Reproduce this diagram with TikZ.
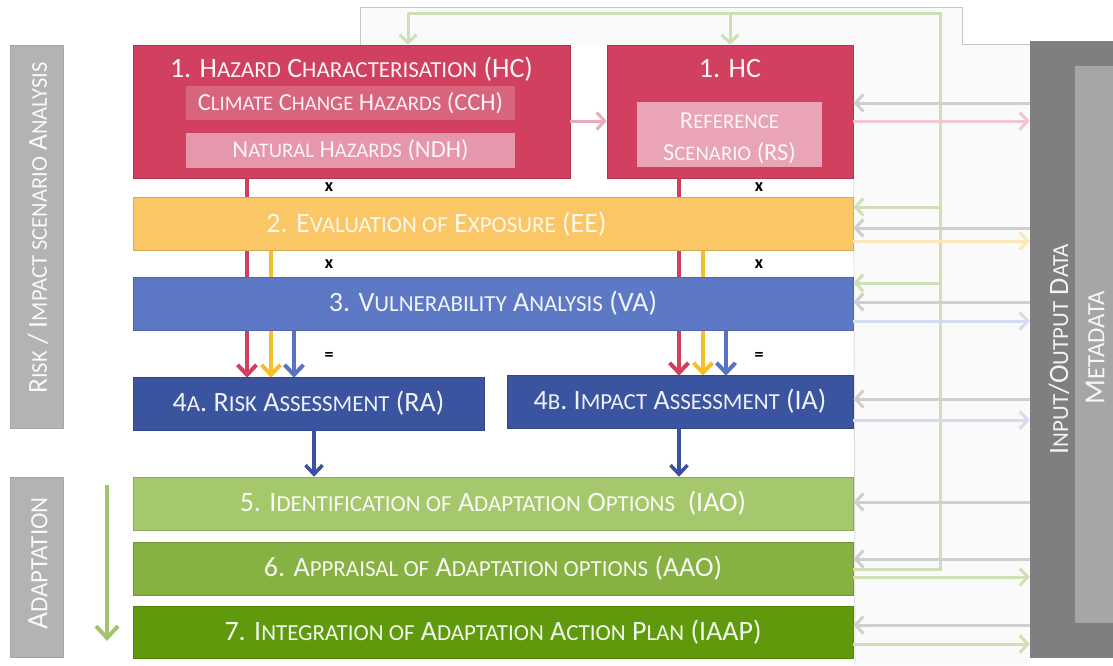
\documentclass[tikz,border=0pt]{standalone}
\usepackage{fontspec}
\setmainfont{Carlito}
\usepackage{relsize}
\usetikzlibrary{arrows.meta}

% small capitals built from scaled upper-case letters
\newcommand\sm[1]{\textscale{0.82}{\MakeUppercase{#1}}}

\definecolor{hcred}{HTML}{D1405E}
\definecolor{cchred}{HTML}{D9647E}
\definecolor{ndhpink}{HTML}{E697AB}
\definecolor{rspink}{HTML}{E9A4B7}
\definecolor{eeyel}{HTML}{FBC766}
\definecolor{vablue}{HTML}{5D79C6}
\definecolor{radark}{HTML}{3A54A0}
\definecolor{gone}{HTML}{A6C86C}
\definecolor{gtwo}{HTML}{87B142}
\definecolor{gthree}{HTML}{5F9A0C}
\definecolor{labgray}{HTML}{B3B3B3}
\definecolor{iogray}{HTML}{7F7F7F}
\definecolor{metagray}{HTML}{A6A6A6}
\definecolor{arrgray}{HTML}{CFCFCF}
\definecolor{arrpink}{HTML}{F2C6D2}
\definecolor{arryel}{HTML}{FDE6BC}
\definecolor{arrblue}{HTML}{D6DCF0}
\definecolor{arrgreen}{HTML}{CFE0B6}
\definecolor{lineyel}{HTML}{F7BE2C}
\definecolor{lineblue}{HTML}{5A72C4}
\definecolor{linedark}{HTML}{3A50A0}
\definecolor{downgreen}{HTML}{A2C46E}

\pgfdeclarelayer{bg}
\pgfsetlayers{bg,main}

\tikzset{
  box/.style={draw=#1!85!black, line width=0.6pt, fill=#1, inner sep=0pt,
              text=white!92!#1, font=\fontsize{28}{30}\selectfont},
  sidelabel/.style={draw=black!35, line width=0.8pt, fill=labgray, inner sep=0pt,
              minimum width=53pt},
  sidetext/.style={rotate=90, text=white!92!labgray},
  barbarrow/.style={-{Straight Barb[length=8pt,width=17pt]}, line width=3pt},
  flowarrow/.style={-{Straight Barb[length=10pt,width=19pt]}, line width=4pt},
  opmark/.style={font=\bfseries\fontsize{18}{19}\selectfont, text=black},
}

\begin{document}
\begin{tikzpicture}[x=1pt,y=-1pt]
\useasboundingbox (0,0) rectangle (1113,665);

% ---------------- boxes ----------------
\node[box=hcred, minimum width=437pt, minimum height=133pt] (hc) at (351.5,111.5) {};
\node[text=white!94!hcred, font=\fontsize{28}{30}\selectfont] (hctitle) at (351.5,69)
  {1. H\sm{azard} C\sm{haracterisation} (HC)};
\node[fill=cchred, inner sep=0pt, minimum width=329pt, minimum height=34pt,
      text=white!92!cchred, font=\fontsize{24.5}{26}\selectfont] (cch) at (350.5,103)
  {C\sm{limate} C\sm{hange} H\sm{azards} (CCH)};
\node[fill=ndhpink, inner sep=0pt, minimum width=329pt, minimum height=35pt,
      text=white!90!ndhpink, font=\fontsize{24.5}{26}\selectfont] (ndh) at (350.5,150.5)
  {N\sm{atural} H\sm{azards} (NDH)};

\node[box=hcred, minimum width=246pt, minimum height=133pt] (hcr) at (730,111.5) {};
\node[text=white!94!hcred, font=\fontsize{28}{30}\selectfont] (hcrtitle) at (730,69) {1. HC};
\node[fill=rspink, inner sep=0pt, minimum width=185pt, minimum height=65pt] (rs) at (729.5,134.5) {};
\node[align=center, text=white!90!rspink, font=\fontsize{24.5}{32}\selectfont] (rstext) at (729.5,138.5)
  {R\sm{eference}\\S\sm{cenario} (RS)};

\node[box=eeyel, minimum width=720pt, minimum height=53pt] (ee) at (493,223.5) {};
\node[text=white!85!eeyel, font=\fontsize{28}{30}\selectfont] (eetext) at (436.5,224.5)
  {2. E\sm{valuation of} E\sm{xposure} (EE)};
\node[box=vablue, minimum width=720pt, minimum height=53pt] (va) at (493,303.5)
  {3. V\sm{ulnerability} A\sm{nalysis} (VA)};
\node[box=radark, minimum width=351pt, minimum height=53pt] (ra) at (308.5,403.5)
  {4\sm{a}. R\sm{isk} A\sm{ssessment} (RA)};
\node[box=radark, minimum width=346pt, minimum height=53pt] (ia) at (680,401.5)
  {4\sm{b}. I\sm{mpact} A\sm{ssessment} (IA)};
\node[box=gone, minimum width=720pt, minimum height=53pt] (iao) at (493,503.5)
  {5. I\sm{dentification of} A\sm{daptation} O\sm{ptions}\ \ (IAO)};
\node[box=gtwo, minimum width=720pt, minimum height=53pt] (aao) at (493,568.5)
  {6. A\sm{ppraisal of} A\sm{daptation options} (AAO)};
\node[box=gthree, minimum width=720pt, minimum height=52pt] (iaap) at (493,632)
  {7. I\sm{ntegration of} A\sm{daptation} A\sm{ction} P\sm{lan} (IAAP)};

% ---------------- side labels ----------------
\node[sidelabel, minimum height=383pt] (riskbar) at (36.5,236.5) {};
\node[sidetext, font=\fontsize{27.5}{30}\selectfont] (risktext) at (38,228)
  {R\sm{isk} / I\sm{mpact scenario} A\sm{nalysis}};
\node[sidelabel, minimum height=180pt] (adaptbar) at (36.5,567) {};
\node[sidetext, font=\fontsize{29.5}{31}\selectfont] (adapttext) at (38,563.5) {A\sm{daptation}};
\coordinate (adtop) at (107,485);
\coordinate (adbot) at (107,641);
\draw[downgreen, -{Straight Barb[length=12pt,width=22pt]}, line width=4pt] (adtop) -- (adbot);

% ---------------- data store ----------------
\node[fill=iogray, inner sep=0pt, minimum width=83pt, minimum height=617pt] (io) at (1071.5,349.5) {};
\node[fill=metagray, inner sep=0pt, minimum width=38pt, minimum height=557pt] (meta) at (1094,344.5) {};
\node[rotate=90, text=white!90!iogray, font=\fontsize{28}{30}\selectfont] (iotext) at (1059,349)
  {I\sm{nput}/O\sm{utput} D\sm{ata}};
\node[rotate=90, text=white!90!metagray, font=\fontsize{29}{31}\selectfont] (metatext) at (1095,348)
  {M\sm{etadata}};

% ---------------- backdrop and flow lines behind the boxes ----------------
\begin{pgfonlayer}{bg}
  \fill[black!2] (360,7) rectangle (962,45);
  \fill[black!2] (855,44) rectangle (1030,665);
  \draw[black!22, line width=0.8pt] (360,45) -- (360,7) -- (962,7) -- (962,44) -- (io.north west |- 0,44);
  \draw[black!15, line width=0.8pt] (hcr.north east) -- (855,665);
  % hazard, exposure and vulnerability feeding the assessments
  \draw[flowarrow, hcred]     (247,0 |- hc.south)  -- ([yshift=-1pt]247,0 |- ra.north);
  \draw[flowarrow, lineyel]   (271,0 |- ee.south)  -- ([yshift=-1pt]271,0 |- ra.north);
  \draw[flowarrow, lineblue]  (294,0 |- va.south)  -- ([yshift=-1pt]294,0 |- ra.north);
  \draw[flowarrow, hcred]     (679,0 |- hcr.south) -- ([yshift=-1pt]679,0 |- ia.north);
  \draw[flowarrow, lineyel]   (703,0 |- ee.south)  -- ([yshift=-1pt]703,0 |- ia.north);
  \draw[flowarrow, lineblue]  (726,0 |- va.south)  -- ([yshift=-1pt]726,0 |- ia.north);
\end{pgfonlayer}

% operators between the steps
\node[opmark] (x1) at (329,187) {x};
\node[opmark] (x2) at (329,264) {x};
\node[opmark] (x3) at (759,187) {x};
\node[opmark] (x4) at (759,264) {x};
\node[opmark] (eq1) at (329,356) {=};
\node[opmark] (eq2) at (759,356) {=};

% assessments into adaptation
\draw[linedark, -{Straight Barb[length=9pt,width=17pt]}, line width=3.5pt] (314,0 |- ra.south) -- (314,0 |- iao.north);
\draw[linedark, -{Straight Barb[length=9pt,width=17pt]}, line width=3.5pt] (679,0 |- ia.south) -- (679,0 |- iao.north);

% hazard characterisation to reference scenario
\draw[barbarrow, arrpink!80!hcred] (hc.east |- 0,121) -- (hcr.west |- 0,121);

% feedback loop from appraisal back to the hazard steps
\draw[arrgreen, line width=3pt] (aao.east |- 0,569) -- (940,569) -- (940,13) -- (408,13);
\draw[barbarrow, arrgreen] (408,13) -- (408,0 |- hc.north);
\draw[barbarrow, arrgreen] (730,13) -- (hcr.north);
\draw[barbarrow, arrgreen] (940,207) -- (ee.east |- 0,207);
\draw[barbarrow, arrgreen] (940,283) -- (va.east |- 0,283);

% exchanges with the data store
\draw[barbarrow, arrgray]  (io.west |- 0,103) -- (hcr.east |- 0,103);
\draw[barbarrow, arrpink]  (hcr.east |- 0,121) -- (io.west |- 0,121);
\draw[barbarrow, arrgray]  (io.west |- 0,228) -- (ee.east |- 0,228);
\draw[barbarrow, arryel]   (ee.east |- 0,241) -- (io.west |- 0,241);
\draw[barbarrow, arrgray]  (io.west |- 0,302) -- (va.east |- 0,302);
\draw[barbarrow, arrblue]  (va.east |- 0,321) -- (io.west |- 0,321);
\draw[barbarrow, arrgray]  (io.west |- 0,399) -- (ia.east |- 0,399);
\draw[barbarrow, arrblue]  (ia.east |- 0,420) -- (io.west |- 0,420);
\draw[barbarrow, arrgray]  (io.west |- 0,502) -- (iao.east |- 0,502);
\draw[barbarrow, arrgray]  (io.west |- 0,559) -- (aao.east |- 0,559);
\draw[barbarrow, arrgreen] (aao.east |- 0,577) -- (io.west |- 0,577);
\draw[barbarrow, arrgray]  (io.west |- 0,625) -- (iaap.east |- 0,625);
\draw[barbarrow, arrgreen] (iaap.east |- 0,644) -- (io.west |- 0,644);
\end{tikzpicture}
\end{document}
